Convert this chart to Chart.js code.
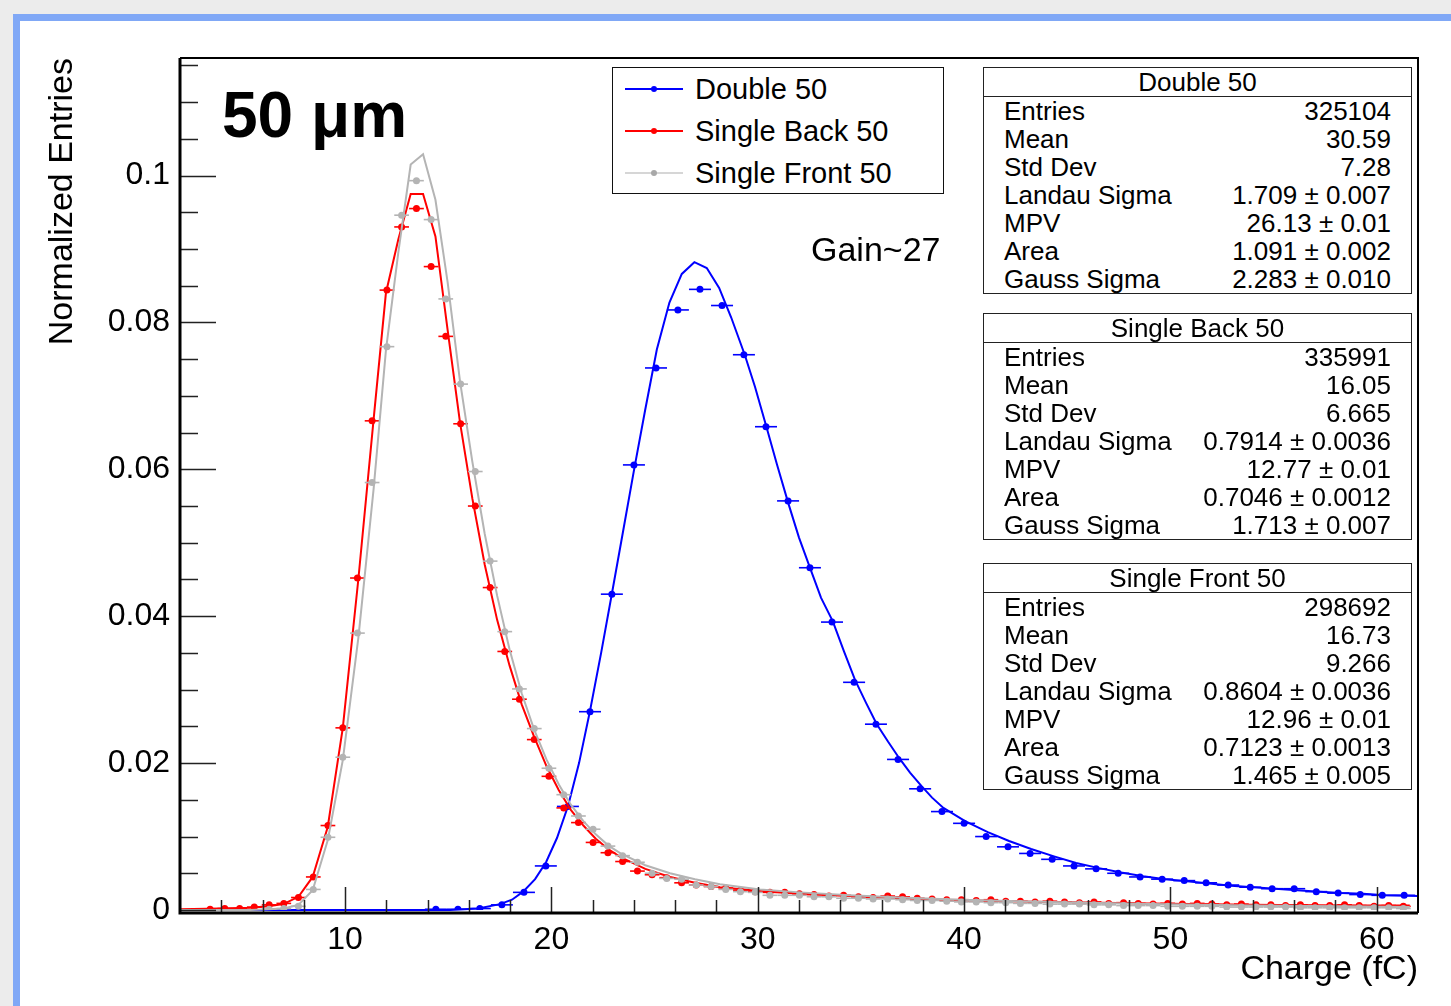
<!DOCTYPE html>
<html>
<head>
<meta charset="utf-8">
<title>Charge 50 um</title>
<script src="https://cdn.jsdelivr.net/npm/chart.js@4.4.1/dist/chart.umd.min.js"></script>
<style>
  body { margin: 0; width: 1451px; height: 1006px; overflow: hidden; background: #ececec;
         font-family: "Liberation Sans", Arial, sans-serif; }
  #sheet { position: absolute; left: 13px; top: 14px; width: 1500px; height: 1050px;
           border: 7px solid #80a8f6; background: #fff; box-sizing: border-box; }
  #c { position: absolute; left: 0; top: 0; }
  .txt { position: absolute; color: #000; white-space: nowrap; }
  .legend { position: absolute; left: 612px; top: 67px; width: 332px; height: 127px;
            border: 1.5px solid #111; background: #fff; box-sizing: border-box; }
  .legend .row { position: absolute; left: 0; height: 40px; width: 100%; }
  .legend .line { position: absolute; left: 12px; top: 19px; width: 58px; height: 2px; }
  .legend .dot { position: absolute; left: 38px; top: 17px; width: 6px; height: 6px; border-radius: 50%; }
  .legend .lab { position: absolute; left: 82px; top: 0; font-size: 29px; line-height: 40px; }
  .stats { position: absolute; left: 983px; width: 429px; height: 227px; border: 1.5px solid #222;
           background: #fff; box-sizing: border-box; font-size: 26px; }
  .stats .ttl { height: 28px; line-height: 28px; text-align: center; border-bottom: 1.5px solid #222; }
  .stats .row { display: flex; justify-content: space-between; height: 28px; line-height: 28px;
                padding: 0 20px 0 20px; }
</style>
</head>
<body>
<div id="sheet"></div>
<canvas id="c" width="1451" height="1006"></canvas>
<div class="txt" style="left:222px; top:83px; font-size:64px; line-height:64px; font-weight:bold;">50 μm</div>
<div class="txt" style="left:811px; top:232px; font-size:34px; line-height:34px;">Gain~27</div>
<div class="legend" id="legend"></div>
<div id="statsHolder"></div>
<script>
// ---- histogram bins (bin centres, fC) ----
const doubleX = [14.40, 15.47, 16.53, 17.60, 18.67, 19.73, 20.80, 21.87, 22.93, 24.00,
  25.07, 26.13, 27.20, 28.27, 29.33, 30.40, 31.47, 32.53, 33.60, 34.67,
  35.73, 36.80, 37.87, 38.93, 40.00, 41.07, 42.13, 43.20, 44.27, 45.33,
  46.40, 47.47, 48.53, 49.60, 50.67, 51.73, 52.80, 53.87, 54.93, 56.00,
  57.07, 58.13, 59.20, 60.27, 61.33];
const doubleY = [0.0001, 0.0001, 0.0002, 0.0007, 0.0024, 0.0060, 0.0141, 0.0270, 0.0430, 0.0606,
  0.0738, 0.0817, 0.0845, 0.0823, 0.0756, 0.0658, 0.0557, 0.0466, 0.0392, 0.0310,
  0.0253, 0.0205, 0.0165, 0.0134, 0.0118, 0.0100, 0.0086, 0.0077, 0.0069, 0.0060,
  0.0056, 0.0050, 0.0045, 0.0042, 0.0040, 0.0037, 0.0034, 0.0031, 0.0029, 0.0029,
  0.0025, 0.0023, 0.0021, 0.0020, 0.0020];

const singleX = [3.46, 4.17, 4.89, 5.60, 6.32, 7.03, 7.74, 8.46, 9.17, 9.89,
  10.60, 11.31, 12.03, 12.74, 13.46, 14.17, 14.88, 15.60, 16.31, 17.03,
  17.74, 18.45, 19.17, 19.88, 20.60, 21.31, 22.02, 22.74, 23.45, 24.17,
  24.88, 25.59, 26.31, 27.02, 27.74, 28.45, 29.16, 29.88, 30.59, 31.31,
  32.02, 32.73, 33.45, 34.16, 34.88, 35.59, 36.30, 37.02, 37.73, 38.45,
  39.16, 39.87, 40.59, 41.30, 42.02, 42.73, 43.44, 44.16, 44.87, 45.59,
  46.30, 47.01, 47.73, 48.44, 49.16, 49.87, 50.58, 51.30, 52.01, 52.73,
  53.44, 54.15, 54.87, 55.58, 56.30, 57.01, 57.72, 58.44, 59.15, 59.87,
  60.58, 61.29];
const backY = [0.0001, 0.0002, 0.0002, 0.0004, 0.0007, 0.0009, 0.0017, 0.0045, 0.0115, 0.0248,
  0.0452, 0.0666, 0.0844, 0.0930, 0.0955, 0.0876, 0.0781, 0.0662, 0.0550, 0.0439,
  0.0352, 0.0287, 0.0232, 0.0182, 0.0139, 0.0119, 0.0092, 0.0078, 0.0066, 0.0053,
  0.0048, 0.0044, 0.0037, 0.0034, 0.0032, 0.0030, 0.0027, 0.0025, 0.0024, 0.0024,
  0.0022, 0.0021, 0.0019, 0.0020, 0.0018, 0.0017, 0.0019, 0.0018, 0.0016, 0.0015,
  0.0014, 0.0014, 0.0013, 0.0014, 0.0012, 0.0012, 0.0011, 0.0012, 0.0011, 0.0010,
  0.0011, 0.0009, 0.0010, 0.0009, 0.0008, 0.0009, 0.0008, 0.0009, 0.0008, 0.0007,
  0.0008, 0.0007, 0.0007, 0.0006, 0.0007, 0.0006, 0.0006, 0.0007, 0.0006, 0.0005,
  0.0006, 0.0005];
const frontY = [null, null, null, null, 0.0001, 0.0002, 0.0005, 0.0028, 0.0099, 0.0208,
  0.0377, 0.0582, 0.0767, 0.0946, 0.0993, 0.0940, 0.0832, 0.0716, 0.0597, 0.0475,
  0.0379, 0.0301, 0.0247, 0.0193, 0.0157, 0.0128, 0.0110, 0.0087, 0.0074, 0.0065,
  0.0050, 0.0043, 0.0042, 0.0034, 0.0032, 0.0028, 0.0025, 0.0024, 0.0020, 0.0020,
  0.0020, 0.0018, 0.0018, 0.0016, 0.0016, 0.0015, 0.0015, 0.0014, 0.0013, 0.0013,
  0.0012, 0.0011, 0.0011, 0.0010, 0.0010, 0.0009, 0.0009, 0.0008, 0.0008, 0.0008,
  0.0007, 0.0007, 0.0006, 0.0006, 0.0006, 0.0005, 0.0005, 0.0005, 0.0005, 0.0004,
  0.0004, 0.0004, 0.0004, 0.0004, 0.0003, 0.0003, 0.0003, 0.0003, 0.0003, 0.0003,
  0.0003, 0.0002];

const doubleBinW = 1.0667;
const singleBinW = 0.714;

// ---- Landau (x) Gauss fit curves ----
const doubleFitX = [2.0, 15.09, 16.45, 17.51, 18.09, 18.63, 19.21, 19.74, 20.27, 20.81,
  21.34, 21.87, 22.41, 22.94, 23.47, 24.01, 24.54, 25.11, 25.72, 26.32,
  26.93, 27.53, 28.13, 28.71, 29.37, 29.87, 30.42, 30.94, 31.48, 32.00,
  32.57, 33.07, 33.64, 34.18, 34.72, 35.25, 35.77, 36.32, 36.85, 37.38,
  37.93, 38.45, 39.00, 40.05, 41.15, 42.18, 43.25, 44.36, 45.43, 46.54,
  47.61, 48.68, 49.74, 50.81, 51.88, 52.94, 54.01, 55.07, 56.14, 57.21,
  58.27, 59.34, 60.40, 62.00];
const doubleFitY = [0.0000, 0.0000, 0.0002, 0.0008, 0.0014, 0.0025, 0.0042, 0.0065, 0.0098, 0.0142,
  0.0200, 0.0271, 0.0350, 0.0432, 0.0515, 0.0600, 0.0680, 0.0763, 0.0827, 0.0866,
  0.0882, 0.0874, 0.0847, 0.0807, 0.0756, 0.0712, 0.0658, 0.0606, 0.0554, 0.0507,
  0.0463, 0.0425, 0.0393, 0.0352, 0.0313, 0.0282, 0.0253, 0.0229, 0.0207, 0.0187,
  0.0169, 0.0153, 0.0139, 0.0121, 0.0106, 0.0094, 0.0083, 0.0073, 0.0064, 0.0057,
  0.0051, 0.0046, 0.0042, 0.0039, 0.0036, 0.0033, 0.0031, 0.0029, 0.0027, 0.0025,
  0.0023, 0.0022, 0.0020, 0.0019];

const singleFitX = [2.0, 3.94, 5.40, 6.27, 7.01, 7.74, 8.43, 9.16, 9.89, 10.65,
  11.39, 11.98, 12.58, 13.18, 13.78, 14.38, 14.97, 15.57, 16.17, 16.77,
  17.37, 17.97, 18.56, 19.16, 19.76, 20.36, 20.95, 21.55, 22.15, 22.75,
  23.35, 24.55, 25.75, 26.96, 28.17, 30.11, 32.05, 34.47, 36.90, 39.81,
  44.17, 49.01, 53.86, 58.22, 61.60];
const backFitY = [0.0001, 0.0002, 0.0003, 0.0005, 0.0008, 0.0018, 0.0045, 0.0113, 0.0248, 0.0452,
  0.0670, 0.0840, 0.0913, 0.0975, 0.0975, 0.0917, 0.0790, 0.0664, 0.0560, 0.0470,
  0.0395, 0.0333, 0.0280, 0.0236, 0.0196, 0.0163, 0.0136, 0.0115, 0.0097, 0.0083,
  0.0072, 0.0056, 0.0045, 0.0037, 0.0031, 0.0026, 0.0022, 0.0019, 0.0016, 0.0013,
  0.0011, 0.0009, 0.0007, 0.0006, 0.0006];
const frontFitY = [0.0000, 0.0000, 0.0000, 0.0001, 0.0002, 0.0007, 0.0027, 0.0095, 0.0204, 0.0372,
  0.0575, 0.0762, 0.0895, 0.1015, 0.1029, 0.0967, 0.0855, 0.0720, 0.0610, 0.0512,
  0.0428, 0.0355, 0.0295, 0.0246, 0.0205, 0.0171, 0.0143, 0.0121, 0.0103, 0.0088,
  0.0077, 0.0061, 0.0050, 0.0042, 0.0035, 0.0028, 0.0024, 0.0020, 0.0017, 0.0014,
  0.0011, 0.0008, 0.0006, 0.0005, 0.0004];

// ---- axes ----
const xTickValues = [10, 20, 30, 40, 50, 60];
const xTickLabels = ['10', '20', '30', '40', '50', '60'];
const yTickValues = [0, 0.02, 0.04, 0.06, 0.08, 0.1];
const yTickLabels = ['0', '0.02', '0.04', '0.06', '0.08', '0.1'];
const xMinorStep = 2;
const yMinorStep = 0.005;

// ---- legend / stats text ----
const seriesNames = ['Double 50', 'Single Back 50', 'Single Front 50'];
const statLabels = ['Entries', 'Mean', 'Std Dev', 'Landau Sigma', 'MPV', 'Area', 'Gauss Sigma'];
const statsDouble = ['325104', '30.59', '7.28', '1.709 ± 0.007', '26.13 ± 0.01', '1.091 ± 0.002', '2.283 ± 0.010'];
const statsBack = ['335991', '16.05', '6.665', '0.7914 ± 0.0036', '12.77 ± 0.01', '0.7046 ± 0.0012', '1.713 ± 0.007'];
const statsFront = ['298692', '16.73', '9.266', '0.8604 ± 0.0036', '12.96 ± 0.01', '0.7123 ± 0.0013', '1.465 ± 0.005'];

const BLUE = '#0000ff', RED = '#ff0000', GREY = '#b4b4b4';

function pts(xs, ys) {
  return xs.map((x, i) => ({ x: x, y: ys[i] })).filter(p => p.y !== null);
}

function halfBinPx(chart, w) {
  const sx = chart.scales.x;
  if (!sx) return 5;
  return Math.abs(sx.getPixelForValue(20 + w / 2) - sx.getPixelForValue(20));
}

function histSets(name, xs, ys, binW, color, order) {
  const data = pts(xs, ys);
  return [
    { label: name, data: data, showLine: false, pointStyle: 'circle', pointRadius: 3.5,
      pointBackgroundColor: color, pointBorderColor: color, pointBorderWidth: 0, order: order },
    { label: name + ' bins', data: data, showLine: false, pointStyle: 'line',
      pointBorderColor: color, pointBorderWidth: 1.6,
      pointRadius: c => halfBinPx(c.chart, binW), order: order + 0.5 }
  ];
}

function fitSet(name, xs, ys, color, order) {
  return { type: 'line', label: name + ' fit', data: pts(xs, ys), showLine: true, borderColor: color,
           borderWidth: 2, pointRadius: 0, tension: 0, fill: false, order: order, clip: 4 };
}

// ROOT style inward ticks + frame
const rootAxes = {
  id: 'rootAxes',
  afterDatasetsDraw(chart) {
    const { ctx, chartArea: a, scales: { x, y } } = chart;
    ctx.save();
    ctx.strokeStyle = '#222';
    ctx.lineWidth = 1.5;
    ctx.beginPath();
    for (let k = 0; k * yMinorStep <= y.max + 1e-9; k++) {
      const v = k * yMinorStep;
      const py = Math.round(y.getPixelForValue(v)) + 0.5;
      const major = yTickValues.some(t => Math.abs(t - v) < 1e-9);
      ctx.moveTo(a.left, py);
      ctx.lineTo(a.left + (major ? 36 : 18), py);
    }
    for (let k = 2; k * xMinorStep < x.max; k++) {
      const v = k * xMinorStep;
      const px = Math.round(x.getPixelForValue(v)) + 0.5;
      const major = xTickValues.indexOf(v) >= 0;
      ctx.moveTo(px, a.bottom + 2);
      ctx.lineTo(px, a.bottom + 2 - (major ? 25 : 12));
    }
    ctx.stroke();
    ctx.strokeStyle = '#000';
    ctx.lineWidth = 2;
    ctx.beginPath();
    ctx.moveTo(a.left, a.top); ctx.lineTo(a.right, a.top); ctx.lineTo(a.right, a.bottom + 3);
    ctx.stroke();
    ctx.lineWidth = 3;
    ctx.beginPath();
    ctx.moveTo(a.left, a.top); ctx.lineTo(a.left, a.bottom + 3); ctx.lineTo(a.right, a.bottom + 3);
    ctx.stroke();
    ctx.restore();
  }
};

Chart.defaults.font.family = "'Liberation Sans', Arial, sans-serif";
Chart.defaults.color = '#000';

const datasets = [
  fitSet('Single Front 50', singleFitX, frontFitY, GREY, 1),
  ...histSets('Single Front 50', singleX, frontY, singleBinW, GREY, 2),
  fitSet('Single Back 50', singleFitX, backFitY, RED, 3),
  ...histSets('Single Back 50', singleX, backY, singleBinW, RED, 4),
  fitSet('Double 50', doubleFitX, doubleFitY, BLUE, 5),
  ...histSets('Double 50', doubleX, doubleY, doubleBinW, BLUE, 6)
];

new Chart(document.getElementById('c').getContext('2d'), {
  type: 'scatter',
  data: { datasets: datasets },
  options: {
    responsive: false,
    animation: false,
    devicePixelRatio: 1,
    layout: { padding: { top: 58, right: 33, left: 0, bottom: 0 } },
    plugins: { legend: { display: false }, tooltip: { enabled: false } },
    scales: {
      x: {
        type: 'linear', min: 2, max: 62,
        afterFit: s => { s.height = 96; },
        afterBuildTicks: s => { s.ticks = xTickValues.map(v => ({ value: v })); },
        grid: { display: false, drawTicks: false },
        border: { display: false },
        ticks: { padding: 11, autoSkip: false, maxRotation: 0, font: { size: 32 },
                 callback: v => xTickLabels[xTickValues.indexOf(v)] },
        title: { display: true, text: 'Charge (fC)', align: 'end', font: { size: 34 },
                 padding: { top: 0, bottom: 16 } }
      },
      y: {
        type: 'linear', min: 0, max: 0.116,
        afterFit: s => { s.width = 180; },
        afterBuildTicks: s => { s.ticks = yTickValues.map(v => ({ value: v })); },
        grid: { display: false, drawTicks: false },
        border: { display: false },
        ticks: { padding: 10, autoSkip: false, font: { size: 32 },
                 callback: v => yTickLabels[yTickValues.findIndex(t => Math.abs(t - v) < 1e-9)] },
        title: { display: true, text: 'Normalized Entries', align: 'end', font: { size: 34 },
                 padding: { top: 42, bottom: 0 } }
      }
    }
  },
  plugins: [rootAxes]
});

// legend box
const legendColors = [
  { line: BLUE, dot: BLUE },
  { line: RED, dot: RED },
  { line: '#d6d6d6', dot: '#a8a8a8' }
];
const legend = document.getElementById('legend');
seriesNames.forEach((n, i) => {
  const row = document.createElement('div');
  row.className = 'row';
  row.style.top = (1 + i * 42) + 'px';
  row.innerHTML = '<div class="line" style="background:' + legendColors[i].line + '"></div>' +
    '<div class="dot" style="background:' + legendColors[i].dot + '"></div>' +
    '<div class="lab">' + n + '</div>';
  legend.appendChild(row);
});

// stats boxes
const statsBoxes = [
  { title: seriesNames[0], top: 67, values: statsDouble },
  { title: seriesNames[1], top: 313, values: statsBack },
  { title: seriesNames[2], top: 563, values: statsFront }
];
const holder = document.getElementById('statsHolder');
statsBoxes.forEach(b => {
  const box = document.createElement('div');
  box.className = 'stats';
  box.style.top = b.top + 'px';
  let html = '<div class="ttl">' + b.title + '</div>';
  statLabels.forEach((l, i) => {
    html += '<div class="row"><span>' + l + '</span><span>' + b.values[i] + '</span></div>';
  });
  box.innerHTML = html;
  holder.appendChild(box);
});
</script>
</body>
</html>
